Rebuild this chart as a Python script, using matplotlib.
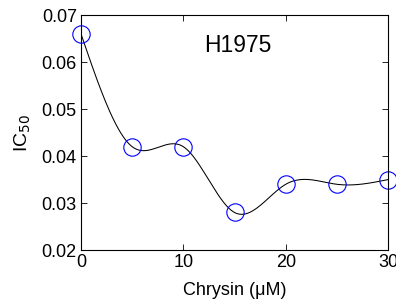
import numpy as np
import matplotlib
matplotlib.use("Agg")
import matplotlib.pyplot as plt

plt.rcParams['font.family'] = ['Liberation Sans', 'DejaVu Sans']

chrysin = [0, 5, 10, 15, 20, 25, 30]
ic50 = [0.066, 0.042, 0.042, 0.028, 0.034, 0.034, 0.035]
xticks = [0, 10, 20, 30]
yticks = [0.02, 0.03, 0.04, 0.05, 0.06, 0.07]
label = "H1975"


def natural_spline(x, y, xs):
    x = np.asarray(x, float); y = np.asarray(y, float)
    n = len(x)
    h = np.diff(x)
    A = np.zeros((n, n)); b = np.zeros(n)
    A[0, 0] = 1; A[-1, -1] = 1
    for i in range(1, n - 1):
        A[i, i - 1] = h[i - 1]
        A[i, i] = 2 * (h[i - 1] + h[i])
        A[i, i + 1] = h[i]
        b[i] = 6 * ((y[i + 1] - y[i]) / h[i] - (y[i] - y[i - 1]) / h[i - 1])
    M = np.linalg.solve(A, b)
    idx = np.clip(np.searchsorted(x, xs) - 1, 0, n - 2)
    x0 = x[idx]; x1 = x[idx + 1]; hh = x1 - x0
    t0 = x1 - xs; t1 = xs - x0
    return (M[idx] * t0**3 / (6 * hh) + M[idx + 1] * t1**3 / (6 * hh)
            + (y[idx] / hh - M[idx] * hh / 6) * t0
            + (y[idx + 1] / hh - M[idx + 1] * hh / 6) * t1)


fig = plt.figure(figsize=(3.96, 3.08), dpi=100)
ax = fig.add_axes([0.2045, 0.188, 0.7755, 0.763])

xs = np.linspace(chrysin[0], chrysin[-1], 400)
ax.plot(xs, natural_spline(chrysin, ic50, xs), color='black', lw=0.75)
ax.plot(chrysin, ic50, 'o', mfc='none', mec='#0000ff', ms=12.5, mew=0.8, clip_on=False)

ax.set_xlim(0, 30)
ax.set_ylim(0.02, 0.07)
ax.set_xticks(xticks)
ax.set_yticks(yticks)
ax.set_yticklabels([f"{v:.2f}" for v in yticks])
ax.tick_params(direction='in', top=True, right=True, labelsize=13, length=4, width=0.6, pad=3)
for s in ax.spines.values():
    s.set_linewidth(0.8)
ax.set_xlabel("Chrysin (μM)", fontsize=13, labelpad=8)
ax.set_ylabel("IC$_{50}$", fontsize=14, labelpad=6)
ax.text(12.0, 0.0636, label, fontsize=16.5, va='center', ha='left')

fig.savefig("out.png", dpi=100)
